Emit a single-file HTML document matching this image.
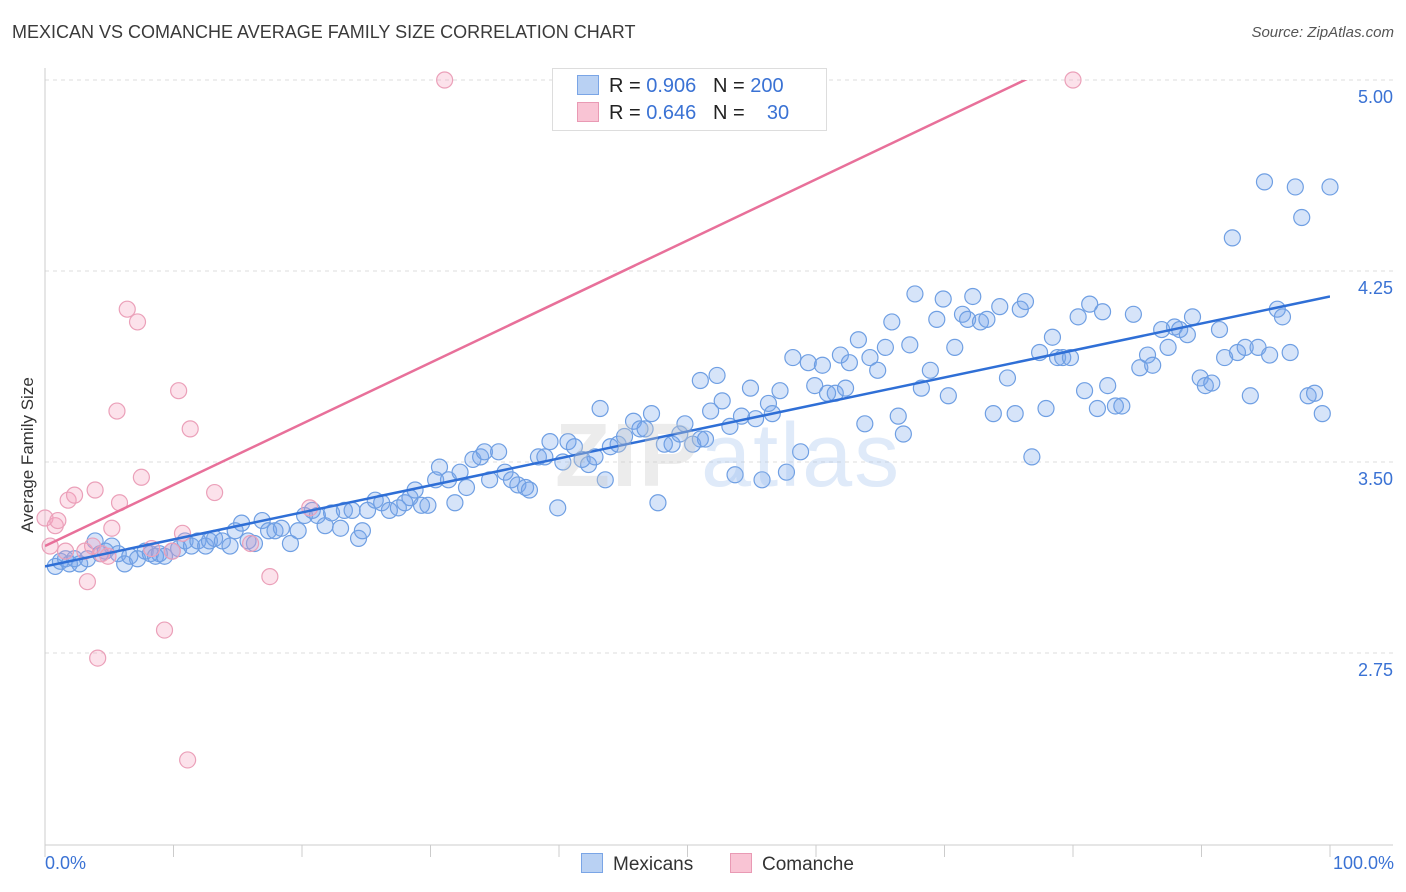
<!DOCTYPE html>
<html><head><meta charset="utf-8">
<style>
body{margin:0;background:#fff;font-family:"Liberation Sans",sans-serif;}
#wrap{position:relative;width:1406px;height:892px;overflow:hidden;}
.t{position:absolute;white-space:nowrap;}
</style></head>
<body>
<div id="wrap">
<div class="t" style="left:12px;top:22px;font-size:18px;color:#3a3a3a;">MEXICAN VS COMANCHE AVERAGE FAMILY SIZE CORRELATION CHART</div>
<div class="t" style="right:12px;top:24px;font-size:15px;color:#555;font-style:italic;">Source: ZipAtlas.com</div>
<svg id="svg" width="1406" height="892" style="position:absolute;left:0;top:0"></svg>
<div class="t" style="left:552px;top:68px;width:273px;height:61px;border:1px solid #ddd;background:#fff;"></div>
<div class="t" style="left:577px;top:74px;font-size:20px;color:#222;line-height:24px;">
<span style="display:inline-block;width:20px;height:18px;background:#b9d1f3;border:1px solid #7aa5e6;vertical-align:-3px;margin-right:10px"></span>R = <span style="color:#3a72d4">0.906</span>&nbsp;&nbsp;&nbsp;N = <span style="color:#3a72d4">200</span></div>
<div class="t" style="left:577px;top:101px;font-size:20px;color:#222;line-height:24px;">
<span style="display:inline-block;width:20px;height:18px;background:#f9c4d4;border:1px solid #e99ab4;vertical-align:-3px;margin-right:10px"></span>R = <span style="color:#3a72d4">0.646</span>&nbsp;&nbsp;&nbsp;N = <span style="color:#3a72d4">&nbsp;&nbsp;&nbsp;30</span></div>
<div class="t" style="left:28px;top:455px;font-size:17px;color:#333;transform:translate(-50%,-50%) rotate(-90deg);">Average Family Size</div>
<div class="t" style="left:45px;top:853px;font-size:18px;color:#3a72d4;">0.0%</div>
<div class="t" style="right:12px;top:853px;font-size:18px;color:#3a72d4;">100.0%</div>
<div class="t" style="left:581px;top:853px;font-size:19px;color:#333;"><span style="display:inline-block;width:20px;height:18px;background:#b9d1f3;border:1px solid #7aa5e6;vertical-align:-3px;margin-right:10px"></span>Mexicans</div>
<div class="t" style="left:730px;top:853px;font-size:19px;color:#333;"><span style="display:inline-block;width:20px;height:18px;background:#f9c4d4;border:1px solid #e99ab4;vertical-align:-3px;margin-right:10px"></span>Comanche</div>
<div class="t" style="left:555px;top:405px;font-size:90px;color:rgba(200,200,200,0.35);font-weight:bold;letter-spacing:2px;">ZIP<span style="color:rgba(150,185,235,0.3);font-weight:normal">atlas</span></div>
</div>
<script>
const yTicks=[5.00,4.25,3.50,2.75];
const yTickLabels=["5.00","4.25","3.50","2.75"];
const blueX=[0.8,1.2,1.6,1.9,2.3,2.7,3.3,3.9,4.3,4.7,5.2,5.7,6.2,6.6,7.2,7.8,8.2,8.6,8.9,9.3,9.9,10.4,10.9,11.4,11.9,12.5,12.8,13.2,13.8,14.4,14.8,15.3,15.8,16.3,16.9,17.4,17.9,18.4,19.1,19.7,20.2,20.8,21.2,21.8,22.3,23.0,23.3,23.9,24.4,24.7,25.1,25.7,26.2,26.8,27.5,28.0,28.4,28.8,29.3,29.8,30.4,30.7,31.4,31.9,32.3,32.8,33.3,33.9,34.2,34.6,35.3,35.8,36.3,36.8,37.4,37.7,38.4,38.9,39.3,39.9,40.3,40.7,41.2,41.8,42.3,42.8,43.2,43.6,44.0,44.6,45.1,45.8,46.3,46.7,47.2,47.7,48.2,48.8,49.4,49.8,50.4,51.0,51.4,51.0,51.8,52.3,52.7,53.3,53.7,54.2,54.9,55.3,55.8,56.3,56.6,57.2,57.7,58.2,58.8,59.4,59.9,60.5,60.9,61.5,61.9,62.3,62.6,63.3,63.8,64.2,64.8,65.4,65.9,66.4,66.8,67.3,67.7,68.2,68.9,69.4,69.9,70.3,70.8,71.4,71.8,72.2,72.8,73.3,73.8,74.3,74.9,75.5,75.9,76.3,76.8,77.4,77.9,78.4,78.8,79.2,79.8,80.4,80.9,81.3,81.9,82.3,82.7,83.3,83.8,84.7,85.2,85.8,86.2,86.9,87.4,87.9,88.3,88.9,89.3,89.9,90.3,90.8,91.4,91.8,92.4,92.8,93.4,93.8,94.4,94.9,95.3,95.9,96.3,96.9,97.3,97.8,98.3,98.8,99.4,100];
const blueY=[3.09,3.11,3.12,3.10,3.12,3.10,3.12,3.19,3.14,3.15,3.17,3.14,3.10,3.13,3.12,3.15,3.14,3.13,3.14,3.13,3.15,3.16,3.19,3.17,3.19,3.17,3.19,3.20,3.19,3.17,3.23,3.26,3.19,3.18,3.27,3.23,3.23,3.24,3.18,3.23,3.29,3.31,3.29,3.25,3.30,3.24,3.31,3.31,3.20,3.23,3.31,3.35,3.34,3.31,3.32,3.34,3.36,3.39,3.33,3.33,3.43,3.48,3.43,3.34,3.46,3.40,3.51,3.52,3.54,3.43,3.54,3.46,3.43,3.41,3.40,3.39,3.52,3.52,3.58,3.32,3.50,3.58,3.56,3.51,3.49,3.52,3.71,3.43,3.56,3.57,3.60,3.66,3.63,3.63,3.69,3.34,3.57,3.57,3.61,3.65,3.57,3.59,3.59,3.82,3.70,3.84,3.74,3.64,3.45,3.68,3.79,3.67,3.43,3.73,3.69,3.78,3.46,3.91,3.54,3.89,3.80,3.88,3.77,3.77,3.92,3.79,3.89,3.98,3.65,3.91,3.86,3.95,4.05,3.68,3.61,3.96,4.16,3.79,3.86,4.06,4.14,3.76,3.95,4.08,4.06,4.15,4.05,4.06,3.69,4.11,3.83,3.69,4.10,4.13,3.52,3.93,3.71,3.99,3.91,3.91,3.91,4.07,3.78,4.12,3.71,4.09,3.80,3.72,3.72,4.08,3.87,3.92,3.88,4.02,3.95,4.03,4.02,4.00,4.07,3.83,3.80,3.81,4.02,3.91,4.38,3.93,3.95,3.76,3.95,4.60,3.92,4.10,4.07,3.93,4.58,4.46,3.76,3.77,3.69,4.58];
const pinkX=[0,0.4,0.8,1.0,1.6,1.8,2.3,3.1,3.3,3.7,3.9,4.1,4.4,4.9,5.2,5.6,5.8,6.4,7.2,7.5,8.3,9.3,9.9,10.4,10.7,11.1,11.3,13.2,16.0,17.5,20.6,31.1,80.0];
const pinkY=[3.28,3.17,3.25,3.27,3.15,3.35,3.37,3.15,3.03,3.17,3.39,2.73,3.14,3.13,3.24,3.70,3.34,4.10,4.05,3.44,3.16,2.84,3.15,3.78,3.22,2.33,3.63,3.38,3.18,3.05,3.32,5.0,5.0];
const blueTrend=[3.09,4.15];
const pinkTrend=[3.17,5.57];

const X0=45,X1=1330,Y0=80,YPX=191/0.75;
const sx=v=>X0+(X1-X0)*v/100;
const sy=v=>Y0+(5-v)*YPX;
const svg=document.getElementById('svg');
const NS='http://www.w3.org/2000/svg';
function mk(tag,attrs){const e=document.createElementNS(NS,tag);for(const k in attrs)e.setAttribute(k,attrs[k]);svg.appendChild(e);return e;}
// grid
yTicks.forEach((v,i)=>{
 const g=mk('line',{x1:X0,x2:1393,y1:sy(v),y2:sy(v),stroke:'#ddd','stroke-dasharray':'4,4'});
 
 
 const t=mk('text',{x:1393,y:sy(v)+23,'text-anchor':'end','font-size':18,fill:'#3a72d4','font-family':'Liberation Sans, sans-serif'});
 t.textContent=yTickLabels[i];
 
 
});
const ax=mk('line',{x1:X0,x2:X0,y1:68,y2:845,stroke:'#ccc'});


const bx=mk('line',{x1:X0,x2:1393,y1:845,y2:845,stroke:'#ccc'});


for(let i=0;i<=10;i++){
 const tk=mk('line',{x1:sx(i*10),x2:sx(i*10),y1:845,y2:857,stroke:'#ccc'});
 
 
}
const defs=mk('defs',{});
const cp=document.createElementNS(NS,'clipPath');cp.setAttribute('id','clip');
const cr=document.createElementNS(NS,'rect');cr.setAttribute('x',X0);cr.setAttribute('y',Y0);cr.setAttribute('width',X1-X0);cr.setAttribute('height',845-Y0);
cp.appendChild(cr);defs.appendChild(cp);
blueX.forEach((x,i)=>{
 const c=mk('circle',{cx:sx(x),cy:sy(blueY[i]),r:8,fill:'rgba(120,165,235,0.3)',stroke:'#6f9fe3','stroke-width':1.2});
 
 
});
pinkX.forEach((x,i)=>{
 const c=mk('circle',{cx:sx(x),cy:sy(pinkY[i]),r:8,fill:'rgba(245,160,190,0.3)',stroke:'#eba0b9','stroke-width':1.2});
 
 
});
const bl=mk('line',{x1:sx(0),y1:sy(blueTrend[0]),x2:sx(100),y2:sy(blueTrend[1]),stroke:'#2f6fd6','stroke-width':2.5,'clip-path':'url(#clip)'});


const pl=mk('line',{x1:sx(0),y1:sy(pinkTrend[0]),x2:sx(100),y2:sy(pinkTrend[1]),stroke:'#e8709a','stroke-width':2.5,'clip-path':'url(#clip)'});


</script>
</body></html>
